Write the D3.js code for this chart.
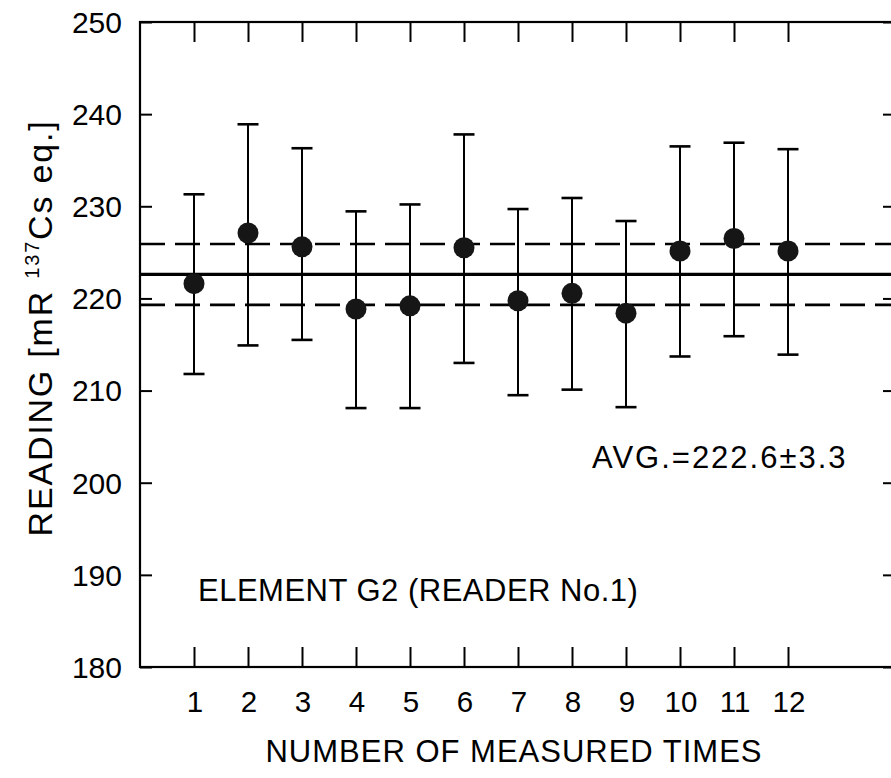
<!DOCTYPE html>
<html>
<head>
<meta charset="utf-8">
<script src="https://cdn.jsdelivr.net/npm/d3@7"></script>
<style>
  html, body { margin: 0; padding: 0; background: #fff; overflow: hidden; }
  svg { display: block; }
  text { font-family: "Liberation Sans", Arial, Helvetica, sans-serif; fill: #000; }
</style>
</head>
<body>
<svg id="chart" width="891" height="778"></svg>
<script>
// ---- data ----
const measurements = [1, 2, 3, 4, 5, 6, 7, 8, 9, 10, 11, 12];
const readings   = [221.6, 227.1, 225.6, 218.85, 219.2, 225.5, 219.75, 220.55, 218.4, 225.15, 226.5, 225.15];
const upperError = [231.3, 238.9, 236.3, 229.45, 230.2, 237.8, 229.7, 230.9, 228.4, 236.5, 236.9, 236.2];
const lowerError = [211.8, 214.9, 215.5, 208.1, 208.1, 213.0, 209.5, 210.1, 208.2, 213.7, 215.9, 213.9];
const average = 222.6;
const deviation = 3.3;
const yTicks = [180, 190, 200, 210, 220, 230, 240, 250];
const xTicks = [1, 2, 3, 4, 5, 6, 7, 8, 9, 10, 11, 12];
const avgLabel = "AVG.=222.6\u00B13.3";
const elementLabel = "ELEMENT G2 (READER No.1)";
const xTitle = "NUMBER OF MEASURED TIMES";

(function () {
// ---- layout ----
const svg = d3.select("#chart");
const mLeft = 140, mRight = 896, mTop = 22, mBottom = 667;
const x = d3.scaleLinear().domain([0, 14]).range([mLeft, mRight]);
const y = d3.scaleLinear().domain([180, 250]).range([mBottom, mTop]);

// reference lines
svg.append("line")
  .attr("x1", mLeft).attr("x2", mRight)
  .attr("y1", y(average)).attr("y2", y(average))
  .attr("stroke", "#000").attr("stroke-width", 3.2);
[average + deviation, average - deviation].forEach(v => {
  svg.append("line")
    .attr("x1", mLeft).attr("x2", mRight)
    .attr("y1", y(v)).attr("y2", y(v))
    .attr("stroke", "#000").attr("stroke-width", 2.6)
    .attr("stroke-dasharray", "25,10");
});

// error bars
const data = measurements.map((m, i) => ({ m, v: readings[i], hi: upperError[i], lo: lowerError[i] }));
const eb = svg.append("g");
eb.selectAll("line.stem").data(data).join("line")
  .attr("class", "stem")
  .attr("x1", d => x(d.m)).attr("x2", d => x(d.m))
  .attr("y1", d => y(d.hi)).attr("y2", d => y(d.lo))
  .attr("stroke", "#000").attr("stroke-width", 2);
const capW = 10.5;
eb.selectAll("line.capHi").data(data).join("line")
  .attr("class", "capHi")
  .attr("x1", d => x(d.m) - capW).attr("x2", d => x(d.m) + capW)
  .attr("y1", d => y(d.hi)).attr("y2", d => y(d.hi))
  .attr("stroke", "#000").attr("stroke-width", 2.6);
eb.selectAll("line.capLo").data(data).join("line")
  .attr("class", "capLo")
  .attr("x1", d => x(d.m) - capW).attr("x2", d => x(d.m) + capW)
  .attr("y1", d => y(d.lo)).attr("y2", d => y(d.lo))
  .attr("stroke", "#000").attr("stroke-width", 2.6);

// points
svg.append("g").selectAll("circle").data(data).join("circle")
  .attr("cx", d => x(d.m)).attr("cy", d => y(d.v))
  .attr("r", 10.5).attr("fill", "#161616");

// frame
svg.append("rect")
  .attr("x", mLeft).attr("y", mTop)
  .attr("width", mRight - mLeft).attr("height", mBottom - mTop)
  .attr("fill", "none").attr("stroke", "#000").attr("stroke-width", 2.2);

// axes (ticks drawn inward) via d3 axes
const axL = svg.append("g").attr("transform", `translate(${mLeft},0)`)
  .call(d3.axisRight(y).tickValues(yTicks).tickSize(12).tickFormat(""));
const axR = svg.append("g").attr("transform", `translate(${mRight},0)`)
  .call(d3.axisLeft(y).tickValues(yTicks).tickSize(13).tickFormat(""));
const axT = svg.append("g").attr("transform", `translate(0,${mTop})`)
  .call(d3.axisBottom(x).tickValues(xTicks).tickSize(20).tickFormat(""));
const axB = svg.append("g").attr("transform", `translate(0,${mBottom})`)
  .call(d3.axisTop(x).tickValues(xTicks).tickSize(20).tickFormat(""));
[axL, axR, axT, axB].forEach(g => {
  g.select(".domain").remove();
  g.selectAll(".tick line").attr("stroke", "#000").attr("stroke-width", 2);
});

// tick labels
svg.append("g").selectAll("text").data(yTicks).join("text")
  .attr("x", 122).attr("y", d => y(d)).attr("dy", "0.36em")
  .attr("text-anchor", "end").attr("font-size", 30)
  .text(d => d);
svg.append("g").selectAll("text").data(xTicks).join("text")
  .attr("x", d => x(d) + 1).attr("y", 712)
  .attr("text-anchor", "middle").attr("font-size", 29.5)
  .text(d => d);

// annotations
svg.append("text").attr("x", 592).attr("y", 468)
  .attr("font-size", 31).attr("letter-spacing", 2).text(avgLabel);
svg.append("text").attr("x", 198).attr("y", 601)
  .attr("font-size", 31).attr("letter-spacing", 0.5).text(elementLabel);
svg.append("text").attr("x", 514).attr("y", 762)
  .attr("text-anchor", "middle")
  .attr("font-size", 31).attr("letter-spacing", 1).text(xTitle);

// y title
const yt = svg.append("text")
  .attr("transform", "translate(52,328) rotate(-90)")
  .attr("text-anchor", "middle")
  .attr("font-size", 34).attr("letter-spacing", 1.8);
yt.append("tspan").text("READING [mR ");
yt.append("tspan").attr("font-size", 20).attr("dy", -13).text("137");
yt.append("tspan").attr("dy", 13).text("Cs eq.]");
})();
</script>
</body>
</html>
